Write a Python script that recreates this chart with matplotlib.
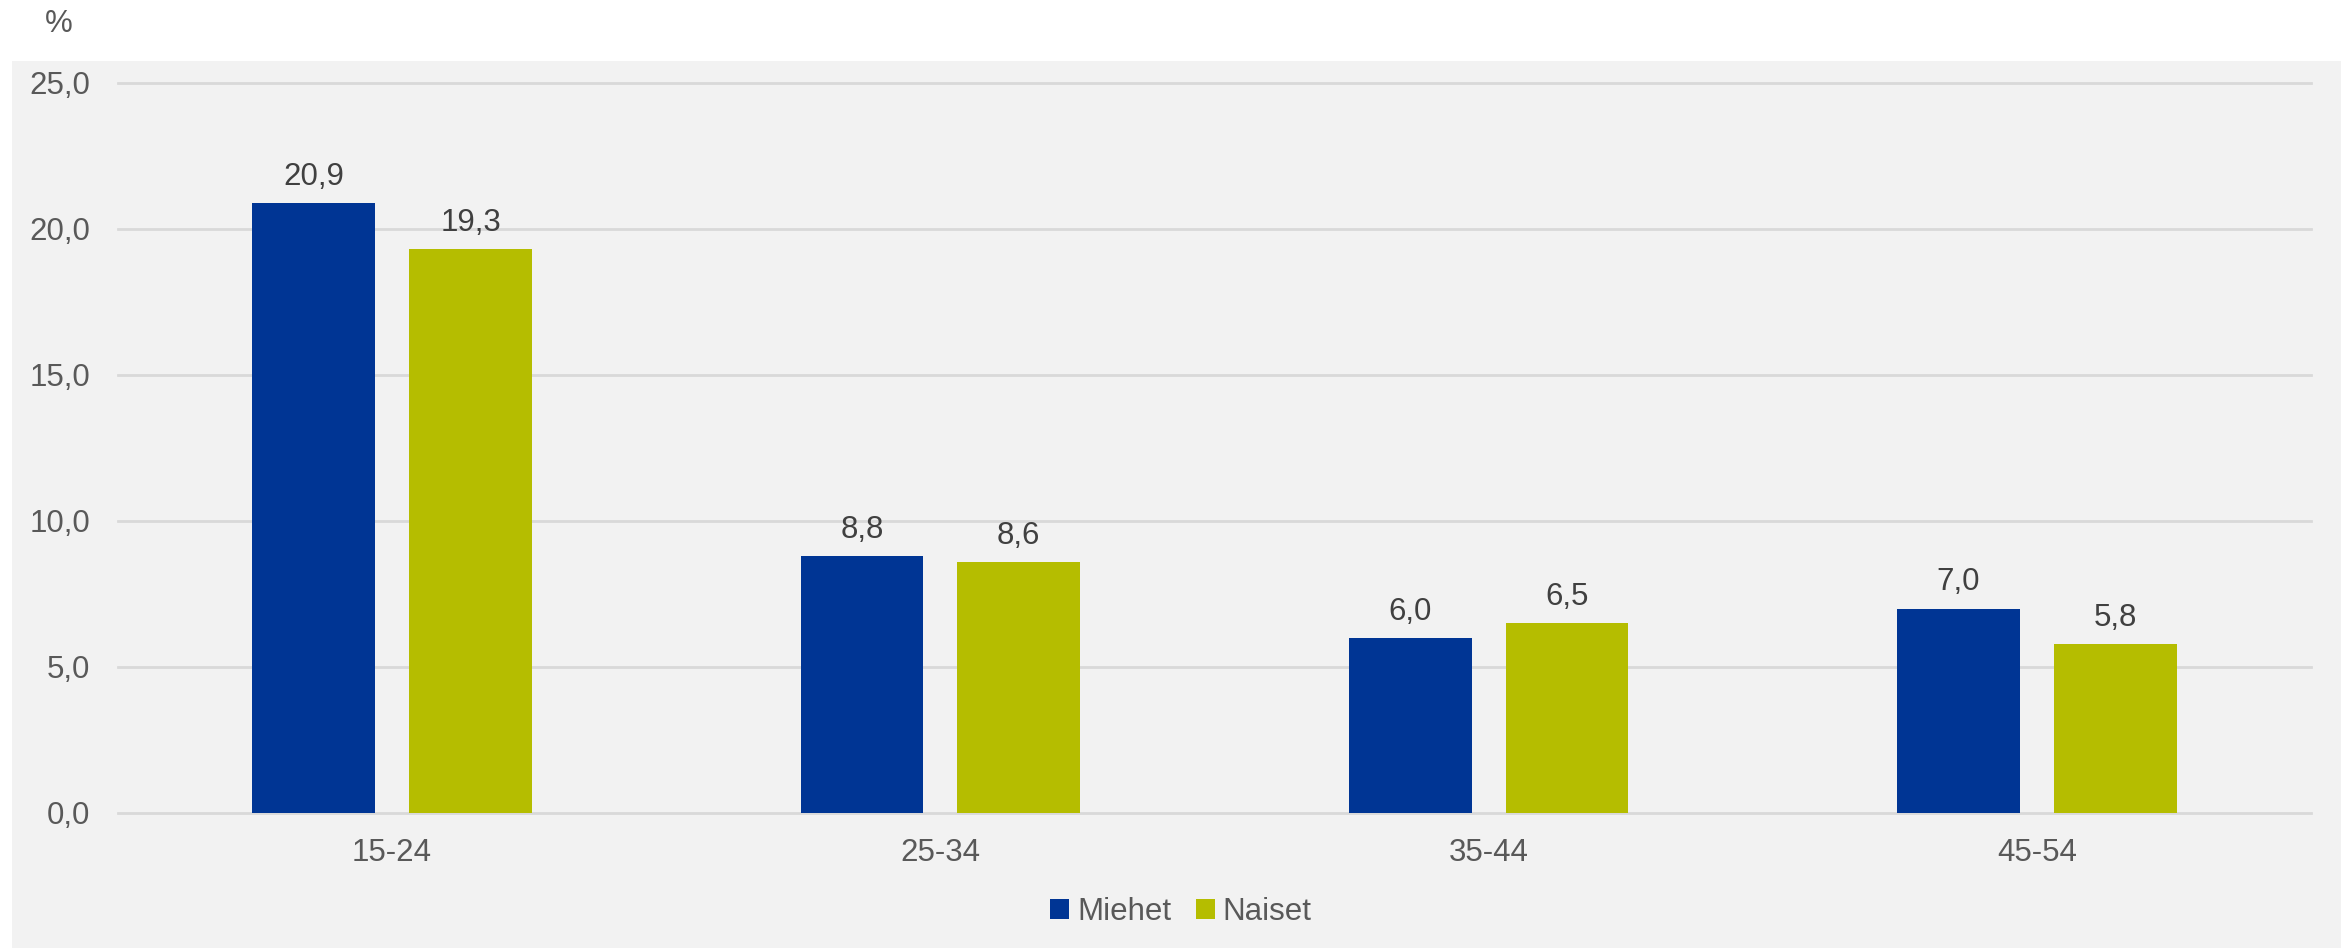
import numpy as np
import matplotlib
matplotlib.use('Agg')
import matplotlib.pyplot as plt
from matplotlib.patches import Rectangle

plt.rcParams['font.family'] = ['Liberation Sans', 'DejaVu Sans']

categories = ['15-24', '25-34', '35-44', '45-54']
miehet = [20.9, 8.8, 6.0, 7.0]
naiset = [19.3, 8.6, 6.5, 5.8]
series_names = ['Miehet', 'Naiset']
colors = ['#003594', '#B5BD00']
yticks = [0, 5, 10, 15, 20, 25]

W, H = 2351, 948
fig = plt.figure(figsize=(W / 100, H / 100), dpi=100)
fig.patch.set_facecolor('white')
# grey panel behind the chart
fig.patches.append(Rectangle((12 / W, 0), (2341 - 12) / W, 1 - 61 / H,
                             transform=fig.transFigure, facecolor='#F2F2F2',
                             edgecolor='none', zorder=-5))

ax = fig.add_axes([118 / W, 1 - 813 / H, (2311 - 118) / W, (813 - 83) / H])
ax.set_facecolor('none')
ax.set_zorder(2)

x = np.arange(len(categories))
width = 0.224
offset = 0.143
textc = '#595959'
fs = 22.5

for vals, name, col, sgn in zip([miehet, naiset], series_names, colors, [-1, 1]):
    bars = ax.bar(x + sgn * offset, vals, width, color=col, label=name, zorder=3)
    for b, v in zip(bars, vals):
        ax.annotate(f'{v:.1f}'.replace('.', ','),
                    (b.get_x() + b.get_width() / 2, v),
                    xytext=(0, 8), textcoords='offset points',
                    ha='center', va='bottom', fontsize=fs, color='#404040')

ax.set_xlim(-0.5, len(categories) - 0.5)
ax.set_ylim(0, 25)
ax.set_yticks(yticks)
ax.set_yticklabels([f'{t:.1f}'.replace('.', ',') for t in yticks])
ax.set_xticks(x)
ax.set_xticklabels(categories)
ax.tick_params(axis='both', length=0, labelsize=fs, labelcolor=textc)
ax.tick_params(axis='y', pad=20)
ax.tick_params(axis='x', pad=18)
ax.grid(axis='y', color='#D9D9D9', linewidth=2, zorder=1)
for gl in ax.get_ygridlines():
    gl.set_clip_on(False)
for s in ax.spines.values():
    s.set_visible(False)

fig.text(59 / W, 1 - 24 / H, '%', ha='center', va='center', fontsize=fs, color=textc)

leg = fig.legend(loc='center', bbox_to_anchor=(1181 / W, 1 - 912 / H), ncol=2,
                 frameon=False, fontsize=fs, handlelength=0.6, handleheight=0.6,
                 handletextpad=0.25, columnspacing=0.8)
for t in leg.get_texts():
    t.set_color(textc)

fig.savefig('out.png', dpi=100)
